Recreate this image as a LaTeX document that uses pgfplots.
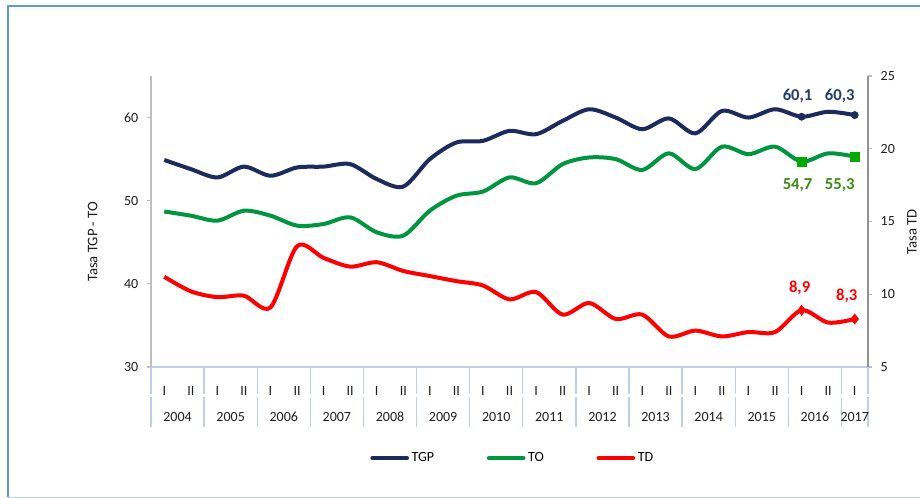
\documentclass[border=0pt]{standalone}
\usepackage{fontspec}
\setmainfont{Carlito}
\usepackage{pgfplots}
\pgfplotsset{compat=1.18}

\definecolor{tgpcol}{RGB}{28,42,92}
\definecolor{tocol}{RGB}{0,150,64}
\definecolor{tdcol}{RGB}{255,0,0}
\definecolor{tgplab}{RGB}{34,62,110}
\definecolor{tolab}{RGB}{60,140,20}
\definecolor{sqgreen}{RGB}{0,170,0}
\definecolor{framecol}{RGB}{91,155,213}
\definecolor{divcol}{RGB}{190,206,236}
\definecolor{axgray}{RGB}{190,190,190}
\definecolor{txt}{RGB}{30,30,30}

% semesters 2004-I ... 2017-I, index 0..26
\pgfplotstableread{
i   tgp   to    td
0   54.9  48.7  11.2
1   53.8  48.2  10.2
2   52.8  47.6  9.8
3   54.1  48.8  9.9
4   53.0  48.2  9.1
5   54.0  47.0  13.3
6   54.1  47.2  12.5
7   54.4  48.0  11.9
8   52.6  46.2  12.2
9   51.7  45.8  11.6
10  55.0  48.8  11.25
11  57.0  50.6  10.9
12  57.2  51.1  10.6
13  58.4  52.8  9.65
14  58.0  52.1  10.15
15  59.6  54.4  8.6
16  61.0  55.2  9.4
17  60.0  55.0  8.3
18  58.6  53.7  8.6
19  59.9  55.7  7.1
20  58.1  53.8  7.5
21  60.8  56.5  7.1
22  60.0  55.6  7.4
23  61.0  56.5  7.4
24  60.1  54.7  8.9
25  60.7  55.7  8.05
26  60.3  55.3  8.3
}\datatable

\pgfplotsset{
  common/.style={
    at={(113.25pt,98.25pt)}, anchor=south west,
    scale only axis, width=537.75pt, height=218.25pt,
    xmin=-0.5, xmax=26.5, clip=false,
    font=\fontsize{10.5}{12}\selectfont,
    tick label style={text=txt},
    /pgf/number format/assume math mode=true,
    tick align=outside, major tick length=3pt,
    tick style={axgray, line width=0.8pt},
  }
}

\begin{document}
\begin{tikzpicture}
\useasboundingbox (0,0) rectangle (690pt,373.5pt);
\fill[white] (0,0) rectangle (690pt,373.5pt);
\draw[framecol, line width=1.5pt] (6pt,0.75pt) -- (6pt,369pt) -- (692pt,369pt);
\draw[divcol, line width=1pt] (6pt,0.6pt) -- (692pt,0.6pt);

\begin{axis}[common,
  ymin=30, ymax=65, ytick={30,40,50,60},
  axis x line*=bottom, axis y line*=left,
  x axis line style={-, divcol, line width=1.2pt},
  y axis line style={-, axgray, line width=1.5pt},
  xtick={0,...,26},
  xticklabels={I,II,I,II,I,II,I,II,I,II,I,II,I,II,I,II,I,II,I,II,I,II,I,II,I,II,I},
  xtick style={draw=none},
  xticklabel style={anchor=center, yshift=-15pt},
  yticklabel style={xshift=-3pt},
  ylabel={Tasa TGP - TO},
  ylabel style={font=\fontsize{11}{12}\selectfont, text=txt, rotate=0, at={(axis description cs:-0.068,0.43)}, anchor=south},
  legend style={draw=none, fill=none, at={(axis description cs:0.300,-0.313)}, anchor=west,
    legend columns=3, font=\fontsize{10.5}{12}\selectfont,
    /tikz/every even column/.append style={column sep=37.5pt}},
  legend image code/.code={\draw[#1, line width=3pt, line cap=round] (0pt,0pt) -- (26pt,0pt);},
]
\addplot[tgpcol, line width=3pt, smooth, tension=0.5] table[x=i, y=tgp] {\datatable};
\addlegendentry{TGP}
\addplot[tocol, line width=3pt, smooth, tension=0.5] table[x=i, y=to] {\datatable};
\addlegendentry{TO}
\addlegendimage{tdcol}
\addlegendentry{TD}
\addplot[forget plot, only marks, mark=*, mark size=2.7pt, tgpcol] coordinates {(24,60.1) (26,60.3)};
\addplot[forget plot, only marks, mark=square*, mark size=3.4pt, sqgreen] coordinates {(24,54.7) (26,55.3)};
\node[font=\bfseries\fontsize{12.5}{14}\selectfont, text=tgplab] at (axis cs:24,60.1) [xshift=-3pt, yshift=15.75pt] {60,1};
\node[font=\bfseries\fontsize{12.5}{14}\selectfont, text=tgplab] at (axis cs:26,60.3) [xshift=-11.25pt, yshift=14.6pt] {60,3};
\node[font=\bfseries\fontsize{12.5}{14}\selectfont, text=tolab] at (axis cs:24,54.7) [xshift=-3pt, yshift=-18pt] {54,7};
\node[font=\bfseries\fontsize{12.5}{14}\selectfont, text=tolab] at (axis cs:26,55.3) [xshift=-11.25pt, yshift=-21.6pt] {55,3};
% category dividers and years
\pgfplotsinvokeforeach{-0.5,1.5,3.5,5.5,7.5,9.5,11.5,13.5,15.5,17.5,19.5,21.5,23.5,25.5,26.5}{
  \draw[divcol, line width=1pt] (axis cs:#1,30) -- ([yshift=-20pt]axis cs:#1,30);
  \draw[divcol, line width=1pt] ([yshift=-22.5pt]axis cs:#1,30) -- ([yshift=-45pt]axis cs:#1,30);
}
\pgfplotsinvokeforeach{0,...,12}{
  \node[text=txt] at (axis cs:{2*#1+0.5},30) [yshift=-37.5pt] {\the\numexpr2004+#1\relax};
}
\node[text=txt] at (axis cs:26,30) [yshift=-37.5pt] {2017};
\end{axis}

\begin{axis}[common,
  ymin=5, ymax=25, ytick={5,10,15,20,25},
  axis x line=none, axis y line*=right,
  y axis line style={-, gray!85, line width=0.8pt},
  yticklabel style={xshift=3pt},
  ylabel={Tasa TD},
  ylabel style={font=\fontsize{11}{12}\selectfont, text=txt, rotate=0, inner sep=0pt, at={(axis description cs:1.0685,0.464)}, anchor=south},
]
\addplot[tdcol, line width=3pt, smooth, tension=0.5] table[x=i, y=td] {\datatable};
\addplot[only marks, mark=diamond*, mark size=3.8pt, tdcol] coordinates {(24,8.9) (26,8.3)};
\node[font=\bfseries\fontsize{12.5}{14}\selectfont, text=tdcol] at (axis cs:24,8.9) [xshift=-1.5pt, yshift=16.7pt] {8,9};
\node[font=\bfseries\fontsize{12.5}{14}\selectfont, text=tdcol] at (axis cs:26,8.3) [xshift=-6pt, yshift=17.25pt] {8,3};
\end{axis}
\end{tikzpicture}
\end{document}
